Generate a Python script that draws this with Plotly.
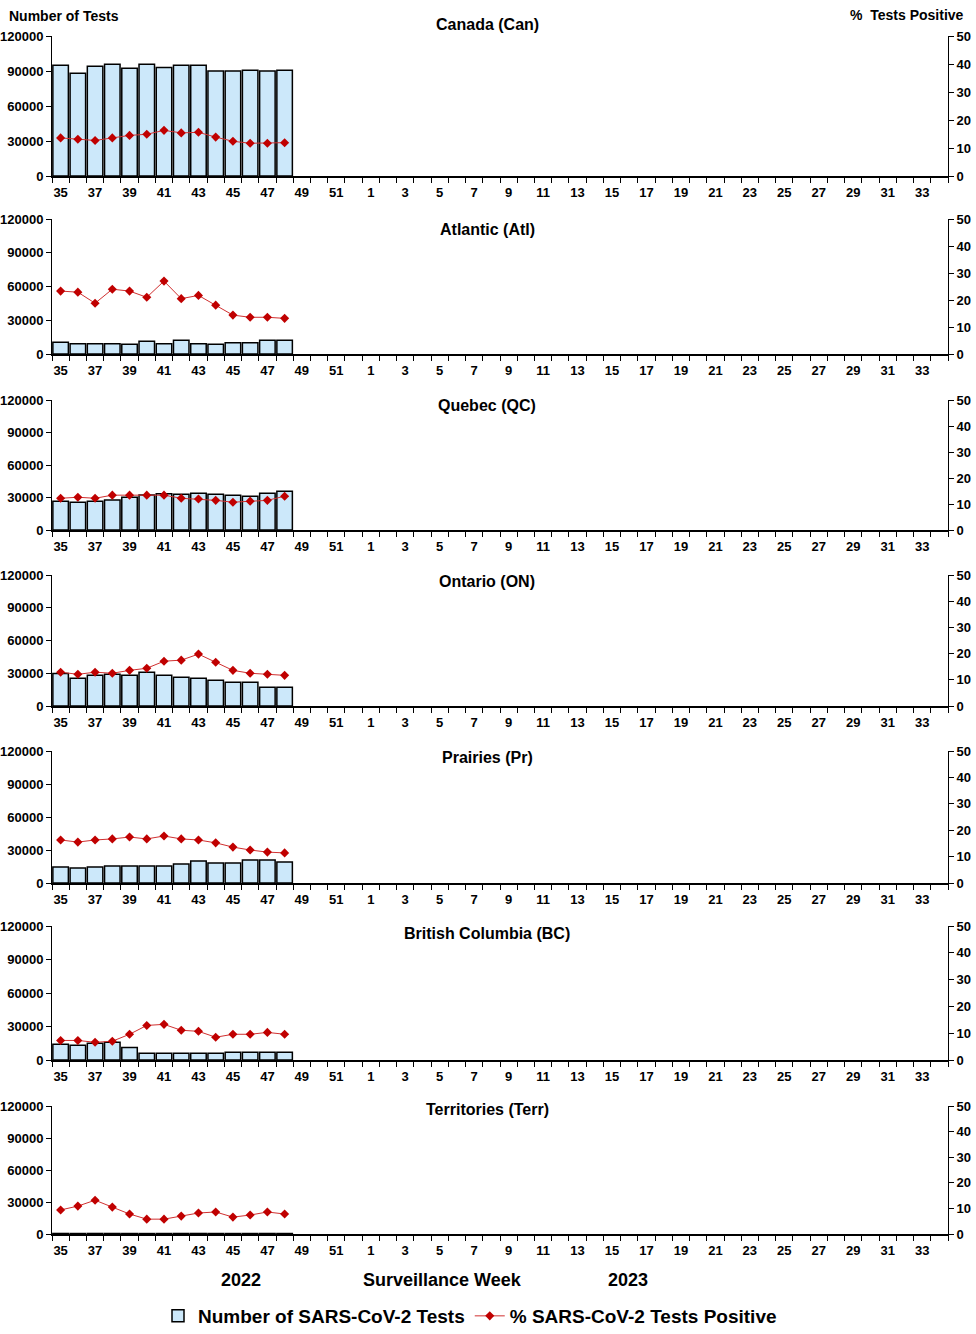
import plotly.graph_objects as go

weeks = [str(w) for w in list(range(35, 53)) + list(range(1, 35))]
data_weeks = [str(w) for w in range(35, 49)]

regions = ["Canada (Can)", "Atlantic (Atl)", "Quebec (QC)", "Ontario (ON)",
           "Prairies (Pr)", "British Columbia (BC)", "Territories (Terr)"]

tests_can = [95000, 88000, 94000, 95700, 92300, 95700, 93100, 94900, 94900, 90000, 90000, 90600, 90000, 90600]
pct_can = [13.6, 13.1, 12.7, 13.6, 14.5, 14.9, 16.3, 15.4, 15.6, 13.9, 12.4, 11.7, 11.7, 11.9]

tests_atl = [10400, 9200, 9200, 9200, 8600, 11300, 9200, 12200, 9200, 8600, 10100, 10100, 12200, 12200]
pct_atl = [23.3, 22.9, 18.8, 24.0, 23.3, 21.0, 27.0, 20.5, 21.7, 18.1, 14.4, 13.6, 13.6, 13.2]

tests_qc = [26600, 25700, 26600, 27600, 30300, 32400, 33400, 33100, 34000, 33100, 32100, 31200, 34000, 35800]
pct_qc = [12.2, 12.6, 12.2, 13.4, 13.4, 13.4, 13.4, 12.2, 11.9, 11.4, 10.7, 11.1, 11.4, 13.0]

tests_on = [29700, 25400, 28200, 29100, 28200, 30900, 28200, 26300, 25400, 23600, 21700, 21700, 17100, 17100]
pct_on = [12.9, 12.1, 12.9, 12.5, 13.6, 14.4, 17.1, 17.5, 19.8, 16.7, 13.6, 12.5, 12.1, 11.7]

tests_pr = [14500, 13600, 14500, 15500, 15500, 15500, 15500, 17300, 20000, 18200, 18200, 20900, 20900, 19100]
pct_pr = [16.3, 15.5, 16.3, 16.7, 17.4, 16.7, 17.8, 16.7, 16.3, 15.2, 13.6, 12.5, 11.7, 11.4]

tests_bc = [14000, 13100, 14900, 15800, 11300, 6000, 6000, 6000, 6000, 6000, 6900, 6900, 6900, 6900]
pct_bc = [7.3, 7.3, 6.6, 7.0, 9.6, 12.9, 13.3, 11.1, 10.7, 8.5, 9.6, 9.6, 10.3, 9.6]

tests_terr = [500, 450, 500, 480, 450, 420, 450, 480, 500, 450, 430, 450, 480, 450]
pct_terr = [9.4, 10.9, 13.2, 10.5, 7.8, 5.8, 5.8, 7.0, 8.2, 8.6, 6.6, 7.4, 8.6, 7.8]

tests_all = [tests_can, tests_atl, tests_qc, tests_on, tests_pr, tests_bc, tests_terr]
pct_all = [pct_can, pct_atl, pct_qc, pct_on, pct_pr, pct_bc, pct_terr]

left_ticks = [0, 30000, 60000, 90000, 120000]
right_ticks = [0, 10, 20, 30, 40, 50]
tick_labels = [w if i % 2 == 0 else "" for i, w in enumerate(weeks)]

W = 976
H = 1334
panels_px = [(36, 176), (219, 354), (400, 530), (575, 706), (751, 883), (926, 1060), (1106, 1234)]
title_px = [24, 229, 405, 581, 757, 933, 1109]

PL = 52
PW = 896

def py(p):
    return 1 - p / H

def px_x(p):
    return (p - PL) / PW

FONT = "Liberation Sans, Arial, sans-serif"
BAR_FILL = "#CCE8FA"
RED = "#C00000"
TF = dict(family=FONT, size=13, color="black", weight="bold")

fig = go.Figure()
layout = {}
NP = 7
for i in range(NP):
    n = 2 * i + 1
    xa = "x" if i == 0 else f"x{i+1}"
    ya = f"y{n}" if n > 1 else "y"
    ya2 = f"y{n+1}"
    fig.add_trace(go.Bar(
        x=data_weeks, y=tests_all[i], xaxis=xa, yaxis=ya,
        marker=dict(color=BAR_FILL, line=dict(color="black", width=1.5)),
        name="Number of SARS-CoV-2 Tests", showlegend=(i == 0),
        legendrank=1,
    ))
    fig.add_trace(go.Scatter(
        x=data_weeks, y=pct_all[i], xaxis=xa, yaxis=ya2, mode="lines+markers",
        line=dict(color="#D03030", width=1),
        marker=dict(symbol="diamond", size=7, color=RED),
        name="% SARS-CoV-2 Tests Positive", showlegend=(i == 0),
        legendrank=2,
    ))
    top, bot = panels_px[i]
    dom = [py(bot), py(top)]
    xkey = "xaxis" if i == 0 else f"xaxis{i+1}"
    ykey = "yaxis" if n == 1 else f"yaxis{n}"
    y2key = f"yaxis{n+1}"
    common_x = dict(
        type="category", categoryorder="array", categoryarray=weeks,
        range=[-0.5, len(weeks) - 0.5],
        tickmode="array", tickvals=weeks,
        tickson="boundaries", tickcolor="black", tickwidth=1,
        showgrid=False, automargin=False, tickangle=0,
    )
    layout[xkey] = dict(
        domain=[0, 1], anchor=ya, ticktext=tick_labels,
        ticks="outside", ticklen=5, ticklabelstandoff=4,
        showline=True, linecolor="black", linewidth=1.5,
        tickfont=TF, **common_x,
    )
    # overlay axis to draw the inner half of the crossing tick marks
    ox = 2 * NP + 1 + i
    layout[f"xaxis{ox}"] = dict(
        overlaying=xa, anchor=ya, side="bottom", ticks="inside", ticklen=4,
        showticklabels=False, showline=False, **common_x,
    )
    layout[ykey] = dict(
        domain=dom, anchor=xa, range=[0, 120000],
        tickmode="array", tickvals=left_ticks, ticktext=[str(v) for v in left_ticks],
        ticks="outside", ticklen=5, tickcolor="black",
        showline=True, linecolor="black", linewidth=1, showgrid=False, zeroline=False,
        tickfont=TF, automargin=False,
    )
    layout[y2key] = dict(
        overlaying=ya, anchor=xa, side="right", range=[0, 50],
        tickmode="array", tickvals=right_ticks,
        ticks="outside", ticklen=5, tickcolor="black",
        showline=True, linecolor="black", linewidth=1, showgrid=False, zeroline=False,
        tickfont=TF, automargin=False,
    )
    oy = 2 * NP + 1 + i
    layout[f"yaxis{oy}"] = dict(
        overlaying=ya, anchor=xa, side="right", range=[0, 50],
        tickmode="array", tickvals=right_ticks,
        ticks="inside", ticklen=4, tickcolor="black",
        showticklabels=False, showline=False, showgrid=False, zeroline=False,
        automargin=False,
    )

annotations = []
for i in range(NP):
    annotations.append(dict(
        text=regions[i], xref="paper", yref="paper", x=px_x(487), y=py(title_px[i]),
        xanchor="center", yanchor="middle", showarrow=False,
        font=dict(family=FONT, size=16, color="black", weight="bold"),
    ))
annotations += [
    dict(text="Number of Tests", xref="paper", yref="paper", x=px_x(7), y=py(16),
         xanchor="left", yanchor="middle", showarrow=False,
         font=dict(family=FONT, size=14, color="black", weight="bold")),
    dict(text="%  Tests Positive", xref="paper", yref="paper", x=px_x(966), y=py(15),
         xanchor="right", yanchor="middle", showarrow=False,
         font=dict(family=FONT, size=14, color="black", weight="bold")),
    dict(text="2022", xref="paper", yref="paper", x=px_x(241), y=py(1280),
         xanchor="center", yanchor="middle", showarrow=False,
         font=dict(family=FONT, size=18, color="black", weight="bold")),
    dict(text="Surveillance Week", xref="paper", yref="paper", x=px_x(442), y=py(1280),
         xanchor="center", yanchor="middle", showarrow=False,
         font=dict(family=FONT, size=18, color="black", weight="bold")),
    dict(text="2023", xref="paper", yref="paper", x=px_x(628), y=py(1280),
         xanchor="center", yanchor="middle", showarrow=False,
         font=dict(family=FONT, size=18, color="black", weight="bold")),
]

fig.update_layout(
    width=W, height=H,
    margin=dict(l=PL, r=W - PL - PW, t=0, b=0, autoexpand=False),
    paper_bgcolor="white", plot_bgcolor="white",
    bargap=0.1,
    showlegend=True,
    hovermode=False,
    legend=dict(orientation="h", x=px_x(470), y=py(1316), xanchor="center", yanchor="middle",
                font=dict(family=FONT, size=19, color="black", weight="bold"),
                itemwidth=30, tracegroupgap=0, bgcolor="rgba(0,0,0,0)"),
    annotations=annotations,
    **layout,
)

fig.write_html("out.html", config={"displayModeBar": False},
               post_script="document.body.style.margin='0px';")
